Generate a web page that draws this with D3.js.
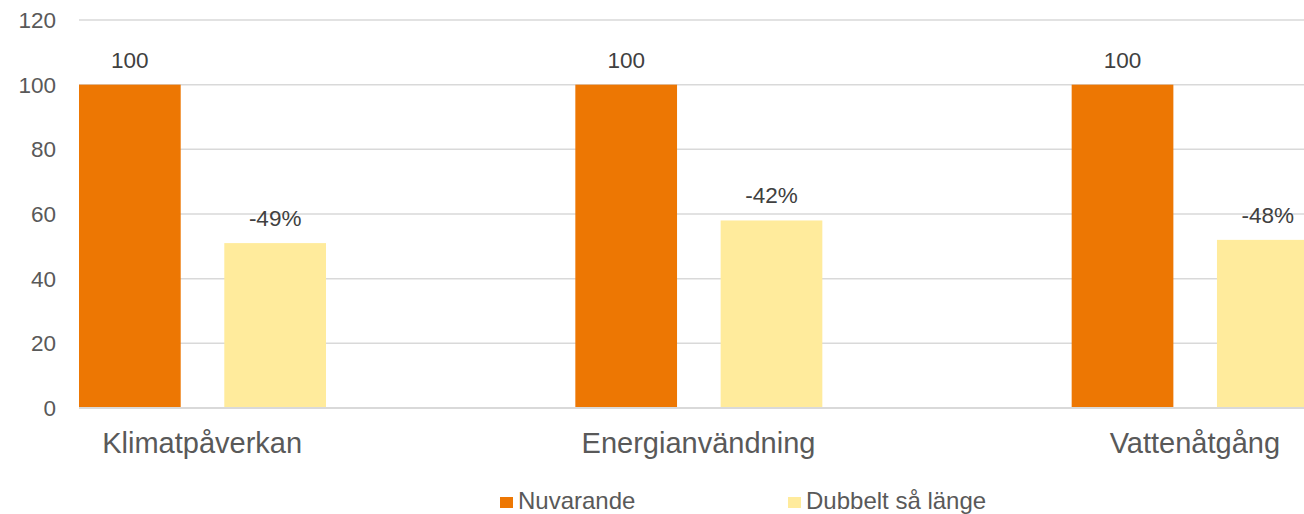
<!DOCTYPE html>
<html>
<head>
<meta charset="utf-8">
<script src="https://cdn.jsdelivr.net/npm/d3@7"></script>
<style>
  body { margin: 0; background: #fff; }
  svg text { font-family: "Liberation Sans", Arial, sans-serif; fill: #595959; }
  svg text.lbl { fill: #404040; }
</style>
</head>
<body>
<svg id="chart"></svg>
<script>
var categories = ['Klimatpåverkan', 'Energianvändning', 'Vattenåtgång'];
var seriesNames = ['Nuvarande', 'Dubbelt så länge'];
var nuvarande = [100, 100, 100];
var dubbelt = [51, 58, 52];
var barLabels = [['100', '-49%'], ['100', '-42%'], ['100', '-48%']];
var yTicks = [0, 20, 40, 60, 80, 100, 120];
var colors = ['#ED7703', '#FFEB9C'];

var width = 1304, height = 514;

var svg = d3.select('#chart')
  .attr('width', width)
  .attr('height', height);

// category bands run past the visible edges (chart is cropped)
var x = d3.scaleBand()
  .domain(categories)
  .range([-46, 1443]);

var xInner = d3.scaleBand()
  .domain(seriesNames)
  .range([125, 372])
  .paddingInner(0.3);

var y = d3.scaleLinear()
  .domain([0, 120])
  .range([408, 20]);

// gridlines
svg.append('g').selectAll('line')
  .data(yTicks.filter(t => t > 0))
  .enter()
  .append('line')
  .attr('x1', 79)
  .attr('x2', width)
  .attr('y1', d => y(d))
  .attr('y2', d => y(d))
  .style('stroke', '#d9d9d9')
  .style('stroke-width', 1.5);

// y tick labels
svg.append('g').selectAll('text')
  .data(yTicks)
  .enter()
  .append('text')
  .attr('x', 56)
  .attr('y', d => y(d))
  .attr('dy', '0.35em')
  .style('text-anchor', 'end')
  .style('font-size', '22.5px')
  .text(d => d);

var rows = categories.map((c, i) => ({
  cat: c,
  vals: [nuvarande[i], dubbelt[i]],
  labels: barLabels[i]
}));

var groups = svg.append('g').selectAll('g')
  .data(rows)
  .enter()
  .append('g')
  .attr('transform', d => 'translate(' + x(d.cat) + ',0)');

groups.selectAll('rect')
  .data(d => d.vals.map((v, j) => ({ s: seriesNames[j], v: v, j: j })))
  .enter()
  .append('rect')
  .attr('x', d => xInner(d.s))
  .attr('width', xInner.bandwidth())
  .attr('y', d => y(d.v))
  .attr('height', d => y(0) - y(d.v))
  .style('fill', d => colors[d.j]);

groups.selectAll('text.lbl')
  .data(d => d.vals.map((v, j) => ({ s: seriesNames[j], v: v, t: d.labels[j] })))
  .enter()
  .append('text')
  .attr('class', 'lbl')
  .attr('x', d => xInner(d.s) + xInner.bandwidth() / 2)
  .attr('y', d => y(d.v) - 17)
  .style('text-anchor', 'middle')
  .style('font-size', '22.5px')
  .text(d => d.t);

// baseline
svg.append('line')
  .attr('x1', 79)
  .attr('x2', width)
  .attr('y1', y(0))
  .attr('y2', y(0))
  .style('stroke', '#d9d9d9')
  .style('stroke-width', 2);

// category labels
svg.append('g').selectAll('text')
  .data(categories)
  .enter()
  .append('text')
  .attr('x', d => x(d) + x.bandwidth() / 2)
  .attr('y', 453)
  .style('text-anchor', 'middle')
  .style('font-size', '29px')
  .text(d => d);

// legend
var legendX = [500, 788];
var legend = svg.append('g').selectAll('g')
  .data(seriesNames)
  .enter()
  .append('g')
  .attr('transform', (d, i) => 'translate(' + legendX[i] + ',497)');

legend.append('rect')
  .attr('width', 13)
  .attr('height', 11)
  .style('fill', (d, i) => colors[i]);

legend.append('text')
  .attr('x', 18)
  .attr('y', 12)
  .style('font-size', '24px')
  .text(d => d);
</script>
</body>
</html>
